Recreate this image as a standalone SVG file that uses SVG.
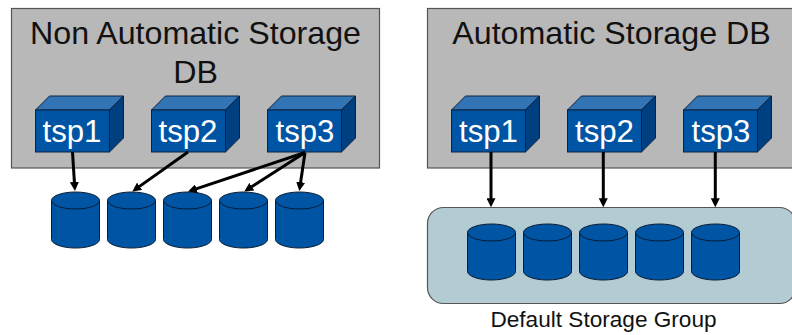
<svg xmlns="http://www.w3.org/2000/svg" width="792" height="335" viewBox="0 0 792 335">
<style>
.box{fill:#b8b8b8;stroke:#555;stroke-width:1.2}
.f{fill:#0054a4;stroke:#0b2240;stroke-width:1}
.t{fill:#3274b4;stroke:#0b2240;stroke-width:1}
.s{fill:#004080;stroke:#0b2240;stroke-width:1}
.c{fill:#0054a4;stroke:#0a1a30;stroke-width:1}
.l{fill:#fff;font:31.2px "Liberation Sans",Arial,sans-serif;text-anchor:middle}
.h{fill:#111;font:32.2px "Liberation Sans",Arial,sans-serif;text-anchor:middle}
.a{stroke:#000;stroke-width:3;fill:none;marker-end:url(#m)}
</style>
<defs>
<marker id="m" markerUnits="userSpaceOnUse" markerWidth="9" markerHeight="9" refX="4" refY="5" orient="auto" viewBox="0 0 10 10"><path d="M0 0L10 5L0 10Z" fill="#000"/></marker>
<g id="cube"><path class="t" d="M0 14L14 0H88L74 14Z"/><path class="s" d="M74 14L88 0V42L74 56Z"/><rect class="f" y="14" width="74" height="42"/></g>
<g id="cyl"><path class="c" d="M0 8.500V47.500C0 52 10.700 56 24 56S48 52 48 47.500V8.500"/><ellipse class="c" cx="24" cy="8.500" rx="24" ry="8.500"/></g>
</defs>
<g id="left-db"><rect class="box" x="11.500" y="8.500" width="368" height="159.500"/><text class="h" x="195.500" y="43.500">Non Automatic Storage</text><text class="h" x="195.500" y="82.700">DB</text></g>
<g id="right-db"><rect class="box" x="427.500" y="8.500" width="368" height="159.500"/><text class="h" x="611.500" y="43.500">Automatic Storage DB</text></g>
<g id="storage-group"><rect x="427.500" y="207.500" width="368" height="96" rx="16" fill="#b3cbd3" stroke="#555" stroke-width="1.200"/></g>
<g id="label-group"><text x="603.500" y="327" text-anchor="middle" font-family="Liberation Sans,Arial,sans-serif" font-size="22.600" fill="#111">Default Storage Group</text></g>
<g id="l-tsp1"><use href="#cube" x="35.500" y="96"/><text class="l" x="72" y="141.700">tsp1</text></g>
<g id="l-tsp2"><use href="#cube" x="151.500" y="96"/><text class="l" x="188" y="141.700">tsp2</text></g>
<g id="l-tsp3"><use href="#cube" x="267.500" y="96"/><text class="l" x="305" y="141.700">tsp3</text></g>
<g id="r-tsp1"><use href="#cube" x="451.500" y="96"/><text class="l" x="488.500" y="141.700">tsp1</text></g>
<g id="r-tsp2"><use href="#cube" x="567.500" y="96"/><text class="l" x="604.500" y="141.700">tsp2</text></g>
<g id="r-tsp3"><use href="#cube" x="683.500" y="96"/><text class="l" x="721" y="141.700">tsp3</text></g>
<g id="l-d1"><use href="#cyl" x="51.500" y="192"/></g>
<g id="l-d2"><use href="#cyl" x="107.500" y="192"/></g>
<g id="l-d3"><use href="#cyl" x="163.500" y="192"/></g>
<g id="l-d4"><use href="#cyl" x="219.500" y="192"/></g>
<g id="l-d5"><use href="#cyl" x="275.500" y="192"/></g>
<g id="r-d1"><use href="#cyl" x="467.500" y="224"/></g>
<g id="r-d2"><use href="#cyl" x="523.500" y="224"/></g>
<g id="r-d3"><use href="#cyl" x="579.500" y="224"/></g>
<g id="r-d4"><use href="#cyl" x="635.500" y="224"/></g>
<g id="r-d5"><use href="#cyl" x="691.500" y="224"/></g>
<g id="connectors">
<path class="a" d="M72.500 152L74.650 185.600"/>
<path class="a" d="M188 152L136.700 188.400"/>
<path class="a" d="M305 152.500L193.100 189.800"/>
<path class="a" d="M305 152.500L248.800 188.600"/>
<path class="a" d="M305 152.500L300.100 185.700"/>
<path class="a" d="M491 152V201.900"/>
<path class="a" d="M603.300 152V201.900"/>
<path class="a" d="M715.300 152V201.900"/>
</g>
</svg>
